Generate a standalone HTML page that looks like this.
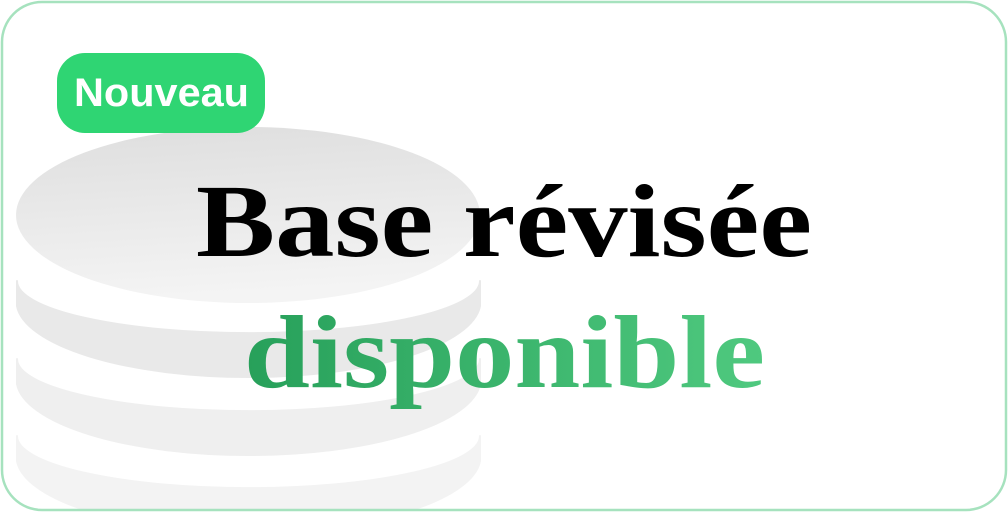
<!DOCTYPE html>
<html><head><meta charset="utf-8"><style>
html,body{margin:0;padding:0;width:1008px;height:512px;overflow:hidden;background:#fff}
</style></head><body>
<svg width="1008" height="512" viewBox="0 0 1008 512" xmlns="http://www.w3.org/2000/svg">
<defs>
<linearGradient id="dbg" x1="0" y1="0" x2="0.15" y2="1">
<stop offset="0" stop-color="#dedede"/><stop offset="1" stop-color="#f4f4f4"/>
</linearGradient>
<linearGradient id="tg" x1="0" y1="0" x2="1" y2="0">
<stop offset="0" stop-color="#27a05a"/><stop offset="1" stop-color="#4fc97f"/>
</linearGradient>
<clipPath id="cl"><rect x="1" y="1" width="1006" height="510" rx="40"/></clipPath>
</defs>
<rect x="0" y="0" width="1008" height="512" fill="#fff"/>
<g clip-path="url(#cl)">
<ellipse cx="248" cy="215" rx="232" ry="88" fill="url(#dbg)"/>
<path d="M17,281 A231,52 0 0 0 480,281 L480,306 A232,76 0 0 1 17,306 Z" fill="#e9e9e9" stroke="#e9e9e9" stroke-width="2" stroke-linejoin="round"/>
<path d="M17,359 A231,52 0 0 0 480,359 L480,384 A232,76 0 0 1 17,384 Z" fill="#efefef" stroke="#efefef" stroke-width="2" stroke-linejoin="round"/>
<path d="M17,436 A231,52 0 0 0 480,436 L480,461 A232,76 0 0 1 17,461 Z" fill="#f3f3f3" stroke="#f3f3f3" stroke-width="2" stroke-linejoin="round"/>
</g>
<rect x="2" y="2" width="1004" height="508" rx="40" fill="none" stroke="#a6e2be" stroke-width="2.5"/>
<rect x="57" y="53" width="208" height="80" rx="28" fill="#2fd573"/>
<text x="74" y="106" font-family="Liberation Sans, sans-serif" font-weight="bold" font-size="40" fill="#fff" textLength="175" lengthAdjust="spacingAndGlyphs">Nouveau</text>
<text x="196" y="256" font-family="Liberation Serif, serif" font-weight="bold" font-size="104" fill="#000" textLength="616" lengthAdjust="spacingAndGlyphs">Base révisée</text>
<text x="244" y="387" font-family="Liberation Serif, serif" font-weight="bold" font-size="104" fill="url(#tg)" textLength="521" lengthAdjust="spacingAndGlyphs">disponible</text>
</svg>
</body></html>
